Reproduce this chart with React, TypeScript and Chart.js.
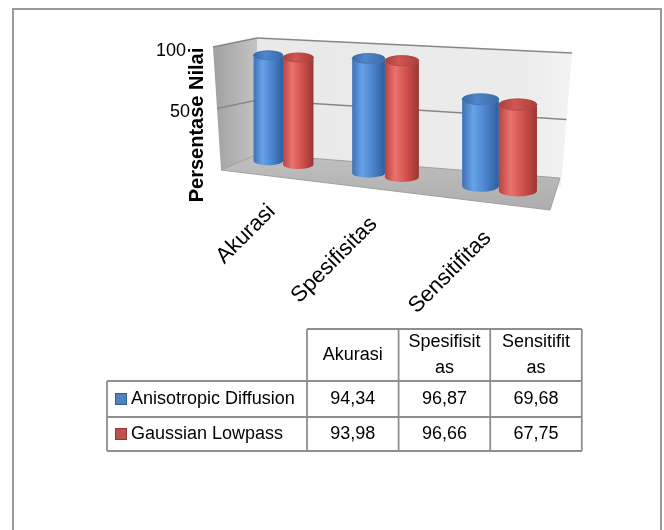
import React, { useEffect, useRef } from "react";
import { Chart, registerables } from "chart.js";

Chart.register(...registerables);

// ---------------- data ----------------
const categories = ["Akurasi", "Spesifisitas", "Sensitifitas"];
const seriesNames = ["Anisotropic Diffusion", "Gaussian Lowpass"];
const anisotropicDiffusion = [94.34, 96.87, 69.68];
const gaussianLowpass = [93.98, 96.66, 67.75];
const yTickValues = [50, 100];
const yMax = 100;
const yTitle = "Persentase Nilai";

// ---------------- styles / layout ----------------
const FONT = '"Liberation Sans", Arial, sans-serif';
type Pt = [number, number];

const PALETTES = [
  { edge: "#3f70b4", light: "#67a2e8", mid: "#4e87d0", dark: "#2f5d9e", top: "#4f86cc", rim: "#3b6aa8", key: "#4f81bd", keyBorder: "#385d8a" },
  { edge: "#b8433f", light: "#ea736e", mid: "#d4534f", dark: "#9c3532", top: "#d05652", rim: "#a83f3c", key: "#c0504d", keyBorder: "#8c3836" },
];

const frame = {
  border: { left: 12, top: 8, right: 662, bottom: 560 },
  sideFrontTop: [213, 47] as Pt,
  sideFrontBottom: [221, 170] as Pt,
  backLeftTop: [257, 38] as Pt,
  backLeftBottom: [258, 162] as Pt,
  backRightTop: [572, 53] as Pt,
  backRightBottom: [561, 186] as Pt,
  floorFrontLeft: [221, 170] as Pt,
  floorFrontRight: [550, 210] as Pt,
  floorBackRight: [560, 178] as Pt,
  floorBackLeft: [258, 154] as Pt,
  barPlane: [[236, 157], [561, 196], [561, 66], [236, 47]] as Pt[],
};

const table = {
  left: 107,
  labelW: 200,
  colW: 91.6,
  top: 329,
  headerH: 52,
  rowH: [36, 34],
};

// ---------------- helpers ----------------
function makeHomography(q: Pt[]) {
  const [x0, y0] = q[0], [x1, y1] = q[1], [x2, y2] = q[2], [x3, y3] = q[3];
  const dx1 = x1 - x2, dx2 = x3 - x2, dx3 = x0 - x1 + x2 - x3;
  const dy1 = y1 - y2, dy2 = y3 - y2, dy3 = y0 - y1 + y2 - y3;
  const den = dx1 * dy2 - dx2 * dy1;
  const g = (dx3 * dy2 - dx2 * dy3) / den;
  const h = (dx1 * dy3 - dx3 * dy1) / den;
  const a = x1 - x0 + g * x1, b = x3 - x0 + h * x3, c = x0;
  const d = y1 - y0 + g * y1, e = y3 - y0 + h * y3, f = y0;
  return (u: number, v: number): Pt => {
    const w = g * u + h * v + 1;
    return [(a * u + b * v + c) / w, (d * u + e * v + f) / w];
  };
}
const lerp = (p: Pt, q: Pt, t: number): Pt => [p[0] + (q[0] - p[0]) * t, p[1] + (q[1] - p[1]) * t];

function poly(ctx: CanvasRenderingContext2D, pts: Pt[]) {
  ctx.beginPath();
  ctx.moveTo(pts[0][0], pts[0][1]);
  for (let i = 1; i < pts.length; i++) ctx.lineTo(pts[i][0], pts[i][1]);
  ctx.closePath();
}
function line(ctx: CanvasRenderingContext2D, p: Pt, q: Pt) {
  ctx.beginPath();
  ctx.moveTo(p[0], p[1]);
  ctx.lineTo(q[0], q[1]);
  ctx.stroke();
}

function drawCylinder(ctx: CanvasRenderingContext2D, cx: number, w: number, yb: number, yt: number, pal: any) {
  const rx = w / 2;
  const ry = Math.max(3, w * 0.15);
  const g = ctx.createLinearGradient(cx - rx, 0, cx + rx, 0);
  g.addColorStop(0, pal.edge);
  g.addColorStop(0.3, pal.light);
  g.addColorStop(0.6, pal.mid);
  g.addColorStop(1, pal.dark);
  ctx.beginPath();
  ctx.moveTo(cx - rx, yt);
  ctx.lineTo(cx - rx, yb);
  ctx.ellipse(cx, yb, rx, ry, 0, Math.PI, 0, true);
  ctx.lineTo(cx + rx, yt);
  ctx.ellipse(cx, yt, rx, ry, 0, 0, Math.PI, false);
  ctx.closePath();
  ctx.fillStyle = g;
  ctx.fill();
  ctx.beginPath();
  ctx.ellipse(cx, yt, rx, ry, 0, 0, Math.PI * 2);
  const tg = ctx.createLinearGradient(cx - rx, 0, cx + rx, 0);
  tg.addColorStop(0, pal.rim);
  tg.addColorStop(0.4, pal.top);
  tg.addColorStop(1, pal.rim);
  ctx.fillStyle = tg;
  ctx.fill();
  ctx.strokeStyle = pal.rim;
  ctx.lineWidth = 0.8;
  ctx.stroke();
}

const fmt = (v: number) => v.toFixed(2).replace(".", ",");

function wrapChars(ctx: CanvasRenderingContext2D, text: string, maxW: number) {
  const lines: string[] = [];
  let cur = "";
  for (const ch of text) {
    if (cur && ctx.measureText(cur + ch).width > maxW) {
      lines.push(cur);
      cur = ch;
    } else cur += ch;
  }
  if (cur) lines.push(cur);
  return lines;
}

// ---------------- plugin ----------------
const cylinderPlugin = {
  id: "cylinder3d",
  beforeDraw(chart: any) {
    const ctx: CanvasRenderingContext2D = chart.ctx;
    const f = frame;
    ctx.save();
    ctx.fillStyle = "#ffffff";
    ctx.fillRect(0, 0, chart.width, chart.height);
    ctx.strokeStyle = "#9a9a9a";
    ctx.lineWidth = 2;
    ctx.strokeRect(f.border.left + 1, f.border.top + 1, f.border.right - f.border.left - 2, f.border.bottom - f.border.top);

    const bw: Pt[] = [f.backLeftBottom, f.backLeftTop, f.backRightTop, f.backRightBottom];
    const bg = ctx.createLinearGradient(f.backLeftTop[0], 0, f.backRightTop[0], 0);
    bg.addColorStop(0, "#e9e9e9");
    bg.addColorStop(0.85, "#ececec");
    bg.addColorStop(1, "#f3f3f3");
    poly(ctx, bw);
    ctx.fillStyle = bg;
    ctx.fill();

    const sw: Pt[] = [f.sideFrontTop, f.backLeftTop, f.backLeftBottom, f.sideFrontBottom];
    const sg = ctx.createLinearGradient(f.sideFrontTop[0], 0, f.backLeftTop[0], 0);
    sg.addColorStop(0, "#a0a0a0");
    sg.addColorStop(1, "#c4c4c4");
    poly(ctx, sw);
    ctx.fillStyle = sg;
    ctx.fill();

    ctx.strokeStyle = "#878787";
    ctx.lineWidth = 1.4;
    for (const t of yTickValues) {
      const fy = t / yMax;
      const a = lerp(f.sideFrontBottom, f.sideFrontTop, fy);
      const b = lerp(f.backLeftBottom, f.backLeftTop, fy);
      const c = lerp(f.backRightBottom, f.backRightTop, fy);
      line(ctx, a, b);
      line(ctx, b, c);
    }

    const fl: Pt[] = [f.floorFrontLeft, f.floorFrontRight, f.floorBackRight, f.floorBackLeft];
    const fg = ctx.createLinearGradient(0, f.floorBackLeft[1], 0, f.floorFrontRight[1]);
    fg.addColorStop(0, "#c0c0c0");
    fg.addColorStop(1, "#adadad");
    poly(ctx, fl);
    ctx.fillStyle = fg;
    ctx.fill();
    ctx.strokeStyle = "#a0a0a0";
    ctx.lineWidth = 1;
    ctx.stroke();

    ctx.fillStyle = "#000";
    ctx.font = `18px ${FONT}`;
    ctx.textAlign = "right";
    ctx.textBaseline = "middle";
    for (const t of yTickValues) {
      const p = lerp(f.sideFrontBottom, f.sideFrontTop, t / yMax);
      ctx.fillText(String(t), p[0] - 27, p[1] + 4);
    }
    ctx.save();
    ctx.translate(197, 125);
    ctx.rotate(-Math.PI / 2);
    ctx.font = `bold 20px ${FONT}`;
    ctx.textAlign = "center";
    ctx.fillText(yTitle, 0, 0);
    ctx.restore();
    ctx.restore();
  },
  beforeDatasetsDraw(chart: any) {
    const ctx: CanvasRenderingContext2D = chart.ctx;
    const area = chart.chartArea;
    const H = makeHomography(frame.barPlane);
    ctx.save();
    const n = categories.length;
    for (let j = 0; j < n; j++) {
      for (let i = 0; i < chart.data.datasets.length; i++) {
        const el = chart.getDatasetMeta(i).data[j];
        const p = el.getProps(["x", "y", "base", "width"], true);
        const uL = (p.x - p.width / 2 - area.left) / area.width;
        const uR = (p.x + p.width / 2 - area.left) / area.width;
        const uC = (p.x - area.left) / area.width;
        const fy = (area.bottom - p.y) / area.height;
        const fb = (area.bottom - p.base) / area.height;
        const xL = H(uL, 0)[0];
        const xR = H(uR, 0)[0];
        const yb = H(uC, fb)[1];
        const yt = H(uC, fy)[1];
        drawCylinder(ctx, (xL + xR) / 2, xR - xL, yb, yt, PALETTES[i]);
      }
    }
    ctx.restore();
    return false;
  },
  afterDraw(chart: any) {
    const ctx: CanvasRenderingContext2D = chart.ctx;
    const area = chart.chartArea;
    const H = makeHomography(frame.barPlane);
    const xScale = chart.scales.x;
    const f = frame;
    ctx.save();
    ctx.fillStyle = "#000";
    ctx.font = `22px ${FONT}`;
    ctx.textAlign = "right";
    ctx.textBaseline = "top";
    categories.forEach((c, j) => {
      const u = (xScale.getPixelForValue(j) - area.left) / area.width;
      const x = H(u, 0)[0];
      const t = (x - f.floorFrontLeft[0]) / (f.floorFrontRight[0] - f.floorFrontLeft[0]);
      const y = f.floorFrontLeft[1] + t * (f.floorFrontRight[1] - f.floorFrontLeft[1]);
      ctx.save();
      ctx.translate(x - 19, y + 23);
      ctx.rotate(-Math.PI / 4);
      ctx.fillText(c, 0, 0);
      ctx.restore();
    });

    const T = table;
    const colX = categories.map((_, j) => T.left + T.labelW + j * T.colW);
    const right = T.left + T.labelW + categories.length * T.colW;
    const rowTop = [T.top + T.headerH, T.top + T.headerH + T.rowH[0]];
    const bottom = rowTop[1] + T.rowH[1];
    ctx.strokeStyle = "#8e8e8e";
    ctx.lineWidth = 1.8;
    line(ctx, [colX[0], T.top], [right, T.top]);
    line(ctx, [T.left, rowTop[0]], [right, rowTop[0]]);
    line(ctx, [T.left, rowTop[1]], [right, rowTop[1]]);
    line(ctx, [T.left, bottom], [right, bottom]);
    line(ctx, [T.left, rowTop[0]], [T.left, bottom]);
    for (const x of colX) line(ctx, [x, T.top], [x, bottom]);
    line(ctx, [right, T.top], [right, bottom]);

    ctx.font = `18px ${FONT}`;
    ctx.textBaseline = "middle";
    ctx.textAlign = "center";
    categories.forEach((c, j) => {
      const lines = wrapChars(ctx, c, T.colW - 16);
      const cy = T.top + T.headerH / 2;
      const lh = 26;
      lines.forEach((ln, k) => {
        ctx.fillText(ln, colX[j] + T.colW / 2, cy + (k - (lines.length - 1) / 2) * lh);
      });
    });
    const seriesData = [anisotropicDiffusion, gaussianLowpass];
    seriesData.forEach((vals, i) => {
      const cy = rowTop[i] + T.rowH[i] / 2;
      ctx.fillStyle = PALETTES[i].key;
      ctx.fillRect(T.left + 8, cy - 6, 12, 12);
      ctx.strokeStyle = PALETTES[i].keyBorder;
      ctx.lineWidth = 1;
      ctx.strokeRect(T.left + 8.5, cy - 5.5, 11, 11);
      ctx.fillStyle = "#000";
      ctx.textAlign = "left";
      ctx.fillText(seriesNames[i], T.left + 24, cy);
      ctx.textAlign = "center";
      vals.forEach((v, j) => ctx.fillText(fmt(v), colX[j] + T.colW / 2, cy));
    });
    ctx.restore();
  },
};

export default function App() {
  const ref = useRef<HTMLCanvasElement>(null);
  useEffect(() => {
    if (!ref.current) return;
    const chart = new Chart(ref.current, {
      type: "bar",
      data: {
        labels: categories,
        datasets: [
          { label: seriesNames[0], data: anisotropicDiffusion, backgroundColor: PALETTES[0].key },
          { label: seriesNames[1], data: gaussianLowpass, backgroundColor: PALETTES[1].key },
        ],
      },
      options: {
        responsive: false,
        animation: false,
        layout: { padding: 0 },
        datasets: { bar: { categoryPercentage: 0.62, barPercentage: 1 } },
        scales: {
          x: { display: false, offset: true },
          y: { display: false, min: 0, max: yMax },
        },
        plugins: { legend: { display: false }, tooltip: { enabled: false } },
      },
      plugins: [cylinderPlugin],
    });
    return () => chart.destroy();
  }, []);
  return (
    <div style={{ position: "fixed", left: 0, top: 0, width: 664, height: 530, background: "#fff" }}>
      <canvas ref={ref} width={664} height={530} style={{ display: "block", width: 664, height: 530 }} />
    </div>
  );
}
